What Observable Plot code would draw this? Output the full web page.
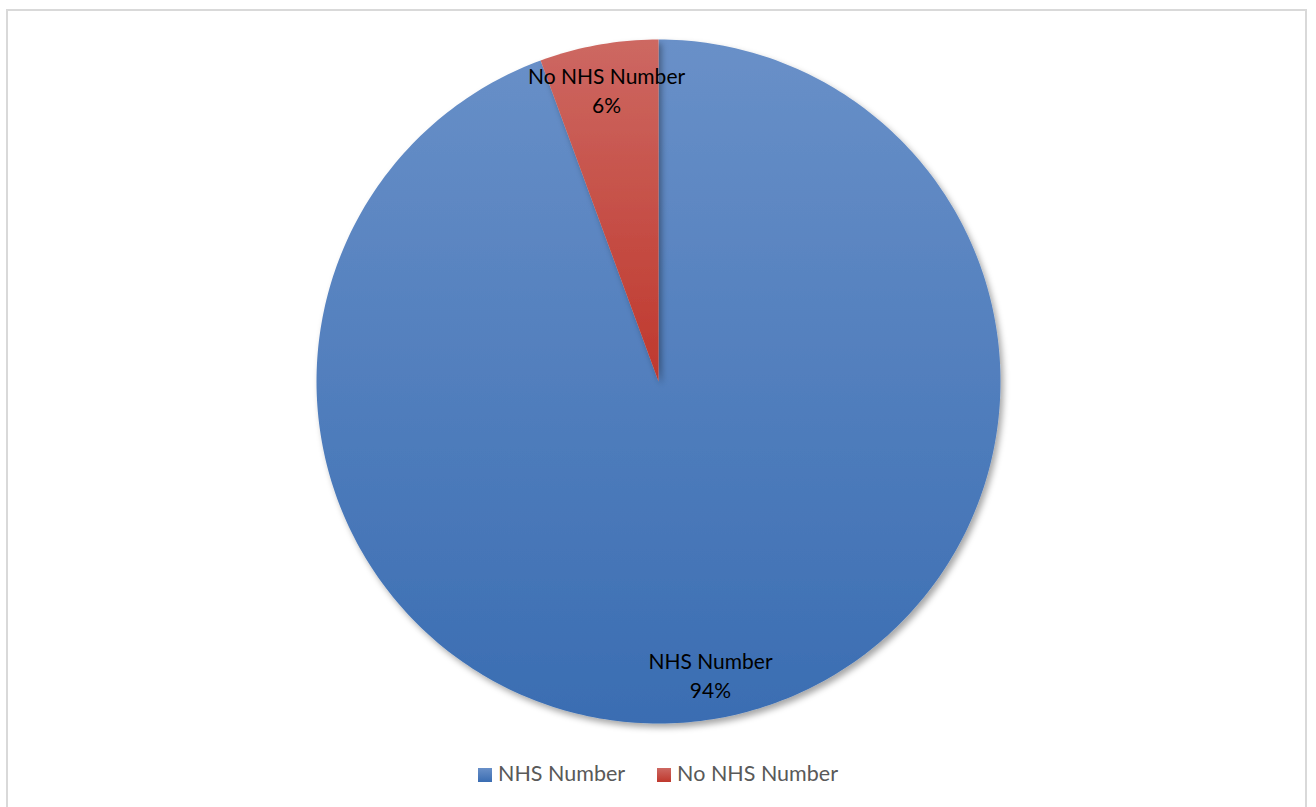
<!DOCTYPE html>
<html>
<head>
<meta charset="utf-8">
<script src="https://cdn.jsdelivr.net/npm/d3@7"></script>
<script src="https://cdn.jsdelivr.net/npm/@observablehq/plot@0.6"></script>
<style>
  html, body { margin: 0; padding: 0; background: #fff; }
  #wrap { position: relative; width: 1316px; height: 807px; overflow: hidden; }
  #frame { position: absolute; left: 6px; top: 9px; width: 1301px; height: 810px; border: 2px solid #d9d9d9; box-sizing: border-box; pointer-events: none; }
  #legend { position: absolute; left: 0; width: 1316px; top: 760px; text-align: center; font-family: Lato, "Open Sans", sans-serif; font-size: 21.5px; color: #595959; white-space: nowrap; }
  #legend span.item { display: inline-block; margin: 0 16px; }
  #legend span.sw { display: inline-block; width: 14px; height: 14px; margin-right: 6px; vertical-align: -1px; }
</style>
</head>
<body>
<div id="wrap">
  <div id="chart"></div>
  <div id="frame"></div>
  <div id="legend"></div>
</div>
<script>
// ---- data ----
const categories = ["NHS Number", "No NHS Number"];
const values = [94.4, 5.6];
const gradientTop = ["#6990c8", "#cd6862"];
const gradientBottom = ["#3a6db2", "#bf382d"];

// ---- pie geometry via d3.pie (angles clockwise from 12 o'clock) ----
const total = d3.sum(values);
const arcs = d3.pie().sort(null)(values);
const fmt = d3.format(".0%");

const slicePoints = [];
arcs.forEach((a, i) => {
  const steps = Math.max(4, Math.ceil((a.endAngle - a.startAngle) / (Math.PI * 2) * 360));
  slicePoints.push({cat: categories[i], x: 0, y: 0});
  for (let k = 0; k <= steps; k++) {
    const t = a.startAngle + (a.endAngle - a.startAngle) * k / steps;
    slicePoints.push({cat: categories[i], x: Math.sin(t), y: Math.cos(t)});
  }
  slicePoints.push({cat: categories[i], x: 0, y: 0});
});

const labels = arcs.map((a, i) => {
  const m = (a.startAngle + a.endAngle) / 2;
  const r = 0.868;
  return {x: r * Math.sin(m), y: r * Math.cos(m), text: categories[i] + "\n" + fmt(values[i] / total)};
});

const plot = Plot.plot({
  width: 1316,
  height: 760,
  margin: 0,
  style: {background: "transparent", overflow: "visible"},
  x: {domain: [-1, 1], range: [316, 1000], axis: null},
  y: {domain: [-1, 1], range: [723, 39], axis: null},
  marks: [
    ...categories.map((c, i) =>
      Plot.line(slicePoints.filter(d => d.cat === c), {
        x: "x", y: "y", fill: `url(#grad${i})`, stroke: "none", curve: "linear"
      })
    ),
    Plot.text(labels, {
      x: "x", y: "y", text: "text",
      fontSize: 21, lineHeight: 1.38, fill: "#000",
      fontFamily: "Lato, 'Open Sans', sans-serif"
    })
  ]
});

// gradients + shadow
const svg = d3.select(plot);
const defs = svg.insert("defs", ":first-child");
categories.forEach((c, i) => {
  const g = defs.append("linearGradient").attr("id", `grad${i}`)
    .attr("x1", 0).attr("y1", 0).attr("x2", 0).attr("y2", 1);
  g.append("stop").attr("offset", "0%").attr("stop-color", gradientTop[i]);
  g.append("stop").attr("offset", "100%").attr("stop-color", gradientBottom[i]);
});
const f = defs.append("filter").attr("id", "shadow").attr("x", "-10%").attr("y", "-10%").attr("width", "120%").attr("height", "120%");
f.append("feDropShadow").attr("dx", 3).attr("dy", 4).attr("stdDeviation", 3).attr("flood-color", "#000").attr("flood-opacity", 0.35);
svg.selectAll("g[aria-label='line']").attr("filter", "url(#shadow)");

document.getElementById("chart").appendChild(plot);

// legend
const leg = d3.select("#legend");
categories.forEach((c, i) => {
  const it = leg.append("span").attr("class", "item");
  it.append("span").attr("class", "sw")
    .style("background", `linear-gradient(${gradientTop[i]}, ${gradientBottom[i]})`);
  it.append("span").text(c);
});
</script>
</body>
</html>
